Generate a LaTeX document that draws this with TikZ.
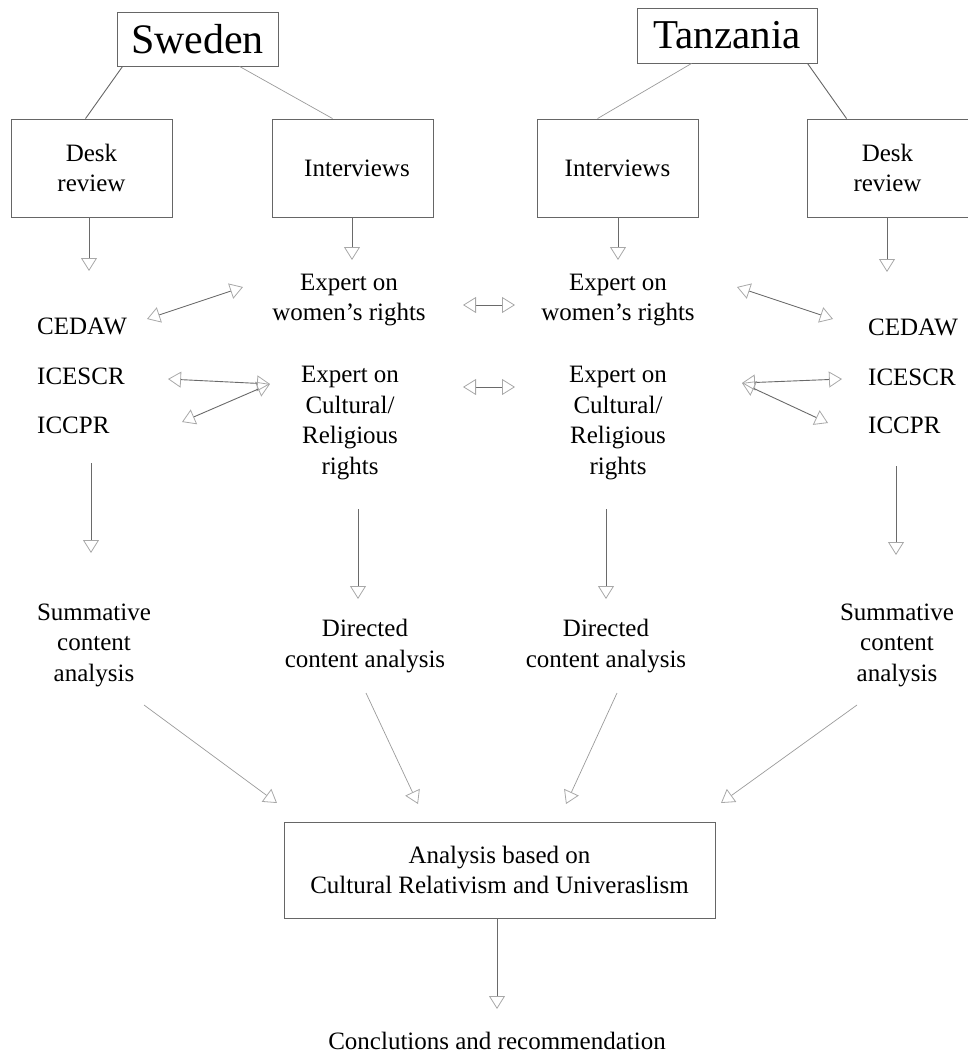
\documentclass[tikz,border=0pt]{standalone}
\usepackage{fontspec}
\setmainfont{Liberation Serif}
\usetikzlibrary{arrows.meta}
\definecolor{boxgray}{HTML}{666666}
\definecolor{linegray}{HTML}{6A6A6A}
\definecolor{lightline}{HTML}{9A9A9A}
\definecolor{tipgray}{HTML}{A8A8A8}
\tikzset{
  txt/.style={font=\fontsize{25}{30.5}\selectfont, align=center, inner sep=0pt},
  lst/.style={font=\fontsize{25}{30.5}\selectfont, anchor=west, inner sep=0pt},
  stepbox/.style={draw=boxgray, line width=0.9pt, font=\fontsize{25}{30.5}\selectfont, align=center, inner sep=0pt, minimum width=161pt, minimum height=98pt},
  country/.style={draw=boxgray, line width=0.9pt, inner sep=0pt},
  link/.style={draw=linegray, line width=0.9pt},
  tip/.style={Triangle[open, length=13pt, width=16pt, color=tipgray, line width=0.8pt]},
  arr/.style={draw=linegray, line width=0.9pt, -{Triangle[open, length=13pt, width=16pt, color=tipgray, line width=0.8pt]}},
  darr/.style={draw=linegray, line width=0.9pt, {Triangle[open, length=13pt, width=16pt, color=tipgray, line width=0.8pt]}-{Triangle[open, length=13pt, width=16pt, color=tipgray, line width=0.8pt]}},
}
\begin{document}
\begin{tikzpicture}[x=1pt, y=-1pt]
\useasboundingbox (0,0) rectangle (967,1055);
% top boxes
\node[country, minimum width=161pt, minimum height=54pt, font=\fontsize{42}{48}\selectfont] (sw) at (197.5,39) {Sweden};
\node[country, minimum width=180pt, minimum height=55pt, font=\fontsize{41}{48}\selectfont] (tz) at (727,35.5) {Tanzania};
\node[stepbox] (dl) at (91.5,168) {Desk\\review};
\node[stepbox] (il) at (352.5,168) {\hspace{9pt}Interviews};
\node[stepbox] (ir) at (617.5,168) {Interviews};
\node[stepbox] (dr) at (887.5,168) {Desk\\review};
% links from countries
\draw[link, draw=boxgray] ([xshift=6pt]sw.south west) -- ([xshift=75pt]dl.north west);
\draw[link, draw=lightline, line width=0.7pt] ([xshift=123pt]sw.south west) -- ([xshift=61pt]il.north west);
\draw[link, draw=lightline, line width=0.7pt] ([xshift=55pt]tz.south west) -- ([xshift=61pt]ir.north west);
\draw[link, draw=boxgray] ([xshift=171pt]tz.south west) -- ([xshift=40pt]dr.north west);
% texts
\node[lst] (ced1) at (37,326) {CEDAW};
\node[lst] (ice1) at (37,376) {ICESCR};
\node[lst] (icc1) at (37,425) {ICCPR};
\node[lst] (ced2) at (868,327) {CEDAW};
\node[lst] (ice2) at (868,377) {ICESCR};
\node[lst] (icc2) at (868,425) {ICCPR};
\node[txt] (ew1) at (349,300) {Expert on\\women’s rights};
\node[txt] (ec1) at (350,423) {Expert on\\Cultural/\\Religious\\rights};
\node[txt] (ew2) at (618,300) {Expert on\\women’s rights};
\node[txt] (ec2) at (618,423) {Expert on\\Cultural/\\Religious\\rights};
\node[txt] (sa1) at (94,645) {Summative\\content\\analysis};
\node[txt] (da1) at (365,646) {Directed\\content analysis};
\node[txt] (da2) at (606,646) {Directed\\content analysis};
\node[txt] (sa2) at (897,645) {Summative\\content\\analysis};
\node[draw=boxgray, line width=0.9pt, minimum width=431pt, minimum height=96pt, txt] (an) at (499.5,870) {Analysis based on\\Cultural Relativism and Univeraslism};
\node[txt] (cc) at (497,1041) {Conclutions and recommendation};
% arrow tips / free ends
\coordinate (t1) at (89,271);
\coordinate (t2) at (352,260);
\coordinate (t3) at (618,260);
\coordinate (t4) at (887,272);
\coordinate (s1) at (91,463);   \coordinate (u1) at (91,553);
\coordinate (s2) at (358,509);  \coordinate (u2) at (358,599);
\coordinate (s3) at (606,509);  \coordinate (u3) at (606,599);
\coordinate (s4) at (896,466);  \coordinate (u4) at (896,555);
\coordinate (a1) at (147,319);  \coordinate (b1) at (243,287);
\coordinate (a2) at (168,379);  \coordinate (b2) at (270,384);
\coordinate (a3) at (182,422);
\coordinate (m1) at (463,305);  \coordinate (n1) at (515,305);
\coordinate (m2) at (463,387);  \coordinate (n2) at (515,387);
\coordinate (c1) at (737,287);  \coordinate (d1) at (833,319);
\coordinate (c2) at (742,383);  \coordinate (d2) at (842,379);
\coordinate (d3) at (828,423);
\coordinate (f1) at (144,705);  \coordinate (g1) at (277,803);
\coordinate (f2) at (366,693);  \coordinate (g2) at (418,804);
\coordinate (f3) at (617,693);  \coordinate (g3) at (566,804);
\coordinate (f4) at (857,705);  \coordinate (g4) at (721,803);
\coordinate (h1) at (497,1009);
% vertical arrows
\draw[arr] (dl.south -| t1) -- (t1);
\draw[arr] (il.south -| t2) -- (t2);
\draw[arr] (ir.south -| t3) -- (t3);
\draw[arr] (dr.south -| t4) -- (t4);
\draw[arr] (s1) -- (u1);
\draw[arr] (s2) -- (u2);
\draw[arr] (s3) -- (u3);
\draw[arr] (s4) -- (u4);
% double arrows
\draw[darr] (a1) -- (b1);
\draw[darr] (a2) -- (b2);
\draw[darr] (a3) -- (b2);
\draw[darr] (m1) -- (n1);
\draw[darr] (m2) -- (n2);
\draw[darr] (c1) -- (d1);
\draw[darr] (c2) -- (d2);
\draw[darr] (c2) -- (d3);
% to analysis
\draw[arr, draw=lightline, line width=0.7pt] (f1) -- (g1);
\draw[arr, draw=lightline, line width=0.7pt] (f2) -- (g2);
\draw[arr, draw=lightline, line width=0.7pt] (f3) -- (g3);
\draw[arr, draw=lightline, line width=0.7pt] (f4) -- (g4);
\draw[arr] (an.south -| h1) -- (h1);
\end{tikzpicture}
\end{document}
